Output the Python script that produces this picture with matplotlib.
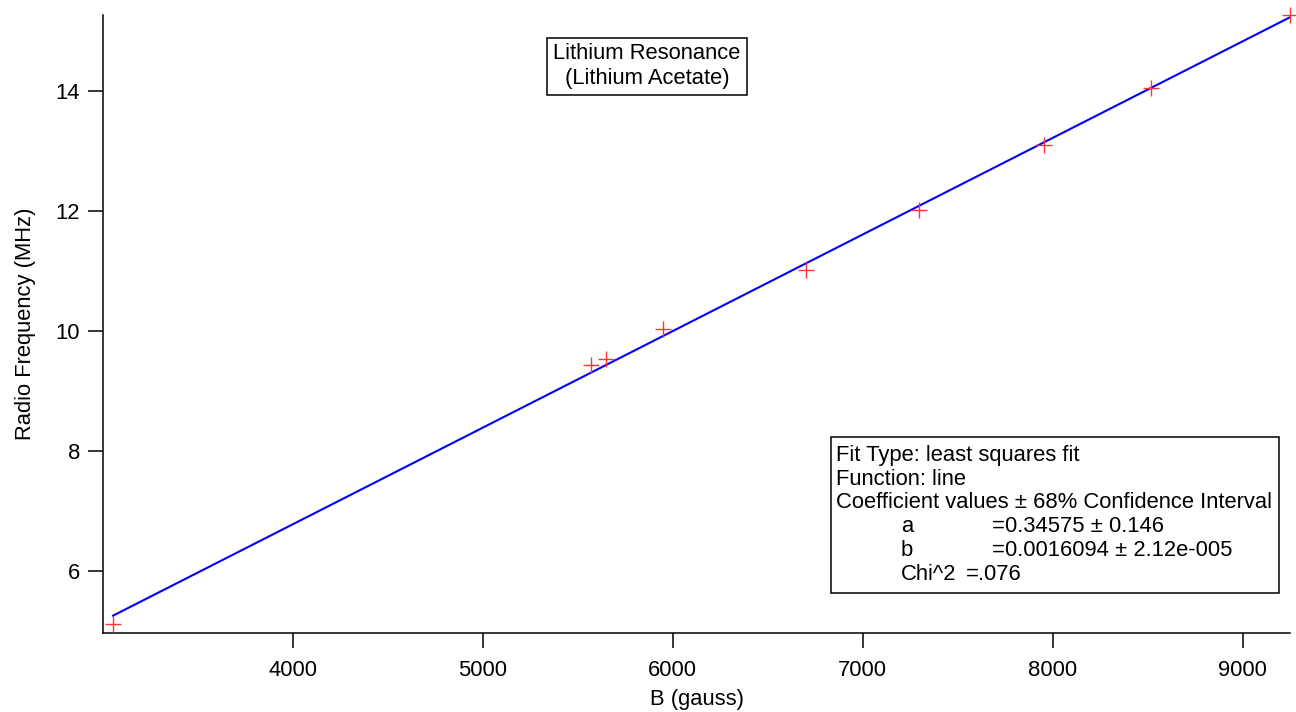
import matplotlib
matplotlib.use('Agg')
import matplotlib.pyplot as plt
import numpy as np
from matplotlib.patches import Rectangle

plt.rcParams['font.family'] = ['Liberation Sans', 'DejaVu Sans']

# measured resonance points
B_gauss = [3053, 5567, 5651, 5946, 6700, 7295, 7953, 8519, 9250]
freq_mhz = [5.12, 9.445, 9.53, 10.03, 11.02, 12.02, 13.10, 14.05, 15.27]

# least squares line f = a + b*B
fit_a = 0.34575
fit_b = 0.0016094

xticks = [4000, 5000, 6000, 7000, 8000, 9000]
yticks = [6, 8, 10, 12, 14]

FS = 15.8

fig = plt.figure(figsize=(12.96, 7.12), dpi=100)
ax = fig.add_axes([103 / 1296, 1 - 633 / 712, (1290 - 103) / 1296, (633 - 15) / 712])

B_line = np.array([B_gauss[0], B_gauss[-1]])
ax.plot(B_line, fit_a + fit_b * B_line, color='#0000ff', lw=1.5, zorder=2)
ax.plot(B_gauss, freq_mhz, ls='none', marker='+', ms=11, mew=1.0,
        color='#ff3333', zorder=3, clip_on=False)

ax.set_xlim(3000, 9250)
ax.set_ylim(4.97, 15.27)
ax.set_xticks(xticks)
ax.set_yticks(yticks)
ax.tick_params(direction='out', length=10.5, width=1.1, labelsize=FS)
ax.tick_params(axis='x', pad=9)
ax.tick_params(axis='y', pad=6)
for s in ['top', 'right']:
    ax.spines[s].set_visible(False)
for s in ['left', 'bottom']:
    ax.spines[s].set_linewidth(1.1)

ax.set_xlabel('B (gauss)', fontsize=FS, labelpad=6)
ax.set_ylabel('Radio Frequency (MHz)', fontsize=FS, labelpad=14)

# title box
fig.patches.append(Rectangle((547 / 1296, 1 - 95 / 712), 200 / 1296, 57 / 712,
                             transform=fig.transFigure, fill=False, ec='black', lw=1.1))
fig.text(647 / 1296, 1 - 66 / 712, 'Lithium Resonance\n(Lithium Acetate)',
         ha='center', va='center', fontsize=FS, linespacing=1.25)

# fit results box
fig.patches.append(Rectangle((831 / 1296, 1 - 593 / 712), 448 / 1296, 156 / 712,
                             transform=fig.transFigure, fill=False, ec='black', lw=1.1))
lines_left = ['Fit Type: least squares fit', 'Function: line',
              'Coefficient values \u00b1 68% Confidence Interval']
y0 = 453
dy = 23.7
for i, t in enumerate(lines_left):
    fig.text(836 / 1296, 1 - (y0 + i * dy) / 712, t, ha='left', va='center_baseline', fontsize=FS)
coef_names = ['a', 'b', 'Chi^2']
coef_vals = ['=0.34575 \u00b1 0.146', '=0.0016094 \u00b1 2.12e-005', '=.076']
for i, (n, v) in enumerate(zip(coef_names, coef_vals)):
    yy = 1 - (y0 + (i + 3) * dy) / 712
    fig.text(901 / 1296, yy, n, ha='left', va='center_baseline', fontsize=FS)
    fig.text((992 if n != 'Chi^2' else 966) / 1296, yy, v, ha='left', va='center_baseline', fontsize=FS)

fig.savefig('out.png', dpi=100)
